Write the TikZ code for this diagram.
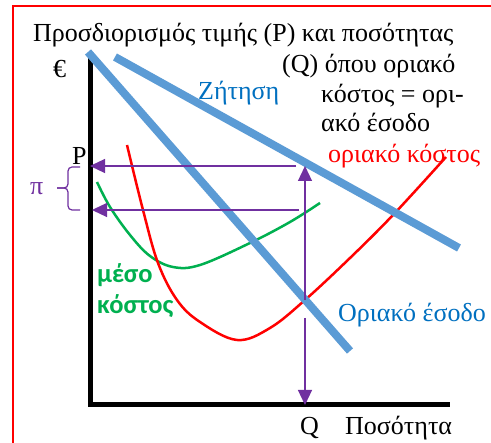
\documentclass[tikz,border=0pt]{standalone}
\usepackage{fontspec}
\setmainfont{Liberation Serif}
\newfontfamily\sansbold{Carlito}
\usetikzlibrary{arrows.meta}
\definecolor{blueline}{HTML}{5B9BD5}
\definecolor{bluetext}{HTML}{0070C0}
\definecolor{purp}{HTML}{7030A0}
\definecolor{grn}{HTML}{00B050}
\begin{document}
\begin{tikzpicture}[x=1pt,y=-1pt,
  txt/.style={inner sep=0pt, anchor=base west, font=\fontsize{26}{30}\selectfont},
  gtxt/.style={inner sep=0pt, anchor=base west, text=grn, font=\sansbold\bfseries\fontsize{26.5}{30}\selectfont},
  bluebar/.style={draw=blueline, line width=8pt},
  axis/.style={draw=black, line width=5pt, miter limit=10},
  parrow/.style={draw=purp, line width=1.2pt, -{Triangle[length=15pt,width=14pt]}},
  bracestyle/.style={draw=purp, line width=1.2pt, rounded corners=4pt},
  curve/.style={line width=2.5pt}]
\useasboundingbox (0,0) rectangle (491,443);
\fill[white] (0,0) rectangle (491,443);
% red frame
\draw[red, line width=1.5pt] (13,450) -- (13,6) -- (500,6);
% title
\node[txt] (t1) at (33,42) {Προσδιορισμός τιμής (P) και ποσότητας};
\node[txt] (t2) at (282,73) {(Q) όπου οριακό};
\node[txt] (t3) at (321,103) {κόστος = ορι-};
\node[txt] (t4) at (321,132) {ακό έσοδο};
% axes
\coordinate (ytop) at (90,55);
\coordinate (orig) at (90,405);
\coordinate (xend) at (450,405);
\draw[axis] (ytop) -- (orig) -- (xend);
\node[txt] (euro) at (53,78) {€};
\node[txt] (plab) at (72,165) {P};
\node[txt] (qlab) at (300,435) {Q};
\node[txt] (qty) at (345,435) {Ποσότητα};
% green average cost
\draw[grn, curve] plot[smooth, tension=0.6] coordinates {(97,182) (110,207) (130,235) (150,256) (173,267) (200,265) (250,243) (290,222) (320,203)};
% red marginal cost
\draw[red, curve] plot[smooth, tension=0.6] coordinates {(127,145) (143,210) (158,263) (177,300) (200,322) (237,340) (270,328) (305,300) (350,258) (393,215) (446,157)};
% blue lines
\coordinate (mrA) at (88,52);
\coordinate (mrB) at (350,351);
\coordinate (dA) at (115,57);
\coordinate (dB) at (459,248);
\draw[bluebar] (mrA) -- (mrB);
\draw[bluebar] (dA) -- (dB);
\node[txt, text=bluetext] (zlab) at (198,100) {Ζήτηση};
\node[txt, text=bluetext] (mrlab) at (338,322) {Οριακό έσοδο};
\node[txt, text=red] (mclab) at (328,163) {οριακό κόστος};
\node[gtxt] (g1) at (97,283) {μέσο};
\node[gtxt] (g2) at (97,314) {κόστος};
% purple arrows
\coordinate (a1s) at (296,166);
\coordinate (a1e) at (90,166);
\coordinate (a2s) at (299,210);
\coordinate (a2e) at (92,210);
\coordinate (vs) at (305,300);
\coordinate (ve) at (305,166);
\coordinate (ds) at (305,318);
\coordinate (de) at (305,405);
\draw[parrow] (a1s) -- (a1e);
\draw[parrow] (a2s) -- (a2e);
\draw[parrow] (vs) -- (ve);
\draw[parrow] (ds) -- (de);
% brace
\coordinate (bt) at (80,167);
\coordinate (bb) at (80,210);
\coordinate (btip) at (57,188);
\draw[bracestyle] (bt) -- (68,167) -- (68,188) -- (btip);
\draw[bracestyle] (bb) -- (68,210) -- (68,188) -- (btip);
\node[txt, text=purp] (pi) at (30,195) {π};
\end{tikzpicture}
\end{document}
